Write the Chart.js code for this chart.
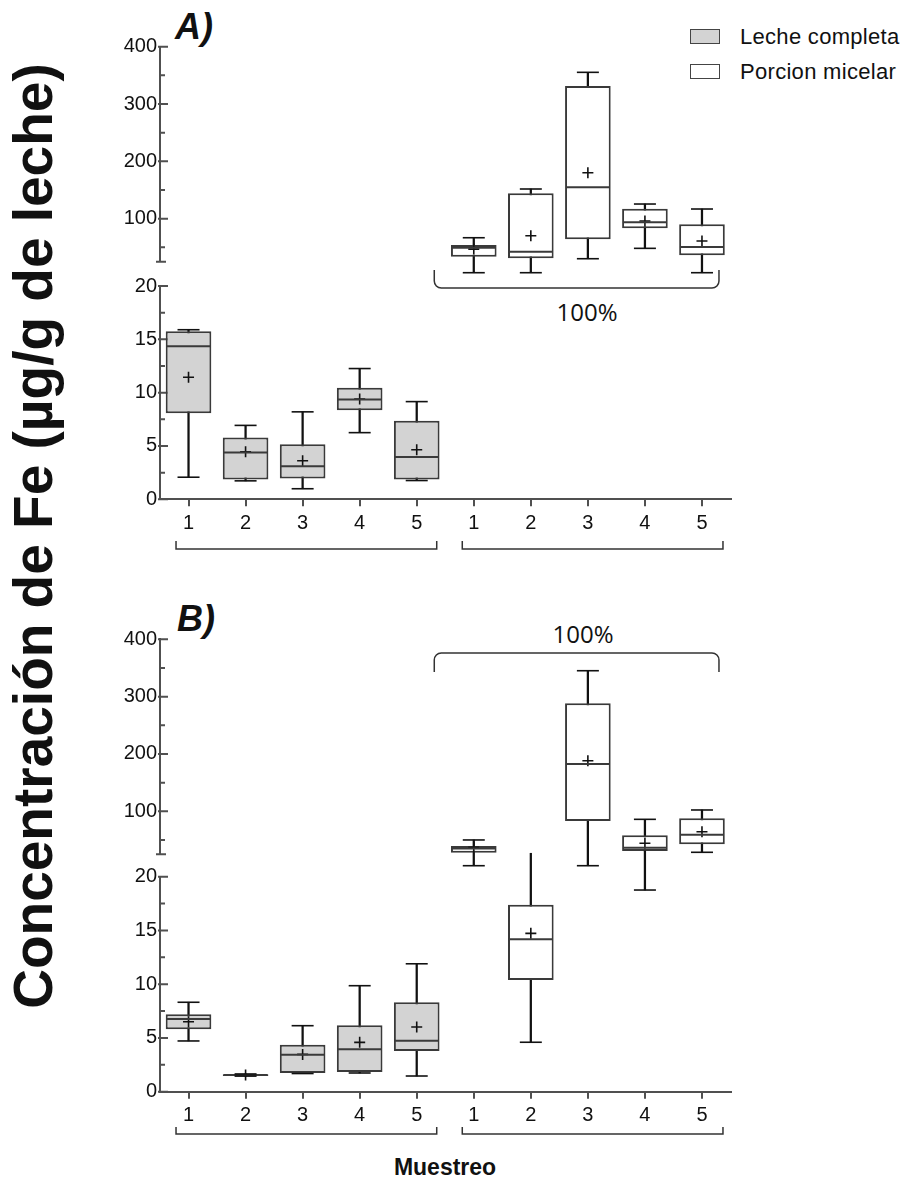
<!DOCTYPE html>
<html>
<head>
<meta charset="utf-8">
<script src="https://cdn.jsdelivr.net/npm/chart.js"></script>
<style>
  html, body { margin: 0; padding: 0; background: #fff; }
  #fig { position: relative; width: 911px; height: 1182px; overflow: hidden; font-family: "Liberation Sans", Arial, sans-serif; color: #111; }
  #fig canvas { position: absolute; left: 0; }
  .ytitle { position: absolute; left: -467px; top: 506px; width: 1000px; height: 60px; line-height: 60px; text-align: center;
            font-size: 55px; font-weight: bold; white-space: nowrap; transform: rotate(-90deg); }
  .panel { position: absolute; font-size: 36px; line-height: 36px; font-weight: bold; font-style: italic; }
  .key { position: absolute; left: 690px; width: 28px; height: 13px; border: 1.5px solid #444; }
  .keytxt { position: absolute; left: 740px; font-size: 22px; line-height: 22px; letter-spacing: 0.3px; white-space: nowrap; }
  .pct { position: absolute; width: 200px; text-align: center; font-family: "Open Sans", sans-serif; font-size: 24px; line-height: 24px; }
  .xtitle { position: absolute; left: 345px; width: 200px; top: 1156px; text-align: center; font-size: 23px; line-height: 23px; font-weight: bold; }
</style>
</head>
<body>
<div id="fig">
  <div class="ytitle">Concentración de Fe (µg/g de leche)</div>
  <div class="panel" style="left:175px;top:9px">A)</div>
  <div class="panel" style="left:177px;top:601px">B)</div>
  <div class="key" style="top:29px;background:#d3d3d3"></div>
  <div class="keytxt" style="top:26px">Leche completa</div>
  <div class="key" style="top:63.5px;background:#fff"></div>
  <div class="keytxt" style="top:61px">Porcion micelar</div>
  <div class="pct" style="left:487px;top:300px">100%</div>
  <div class="pct" style="left:483px;top:622px">100%</div>
  <div class="xtitle">Muestreo</div>

  <canvas id="aTop" width="911" height="335" style="top:0px"></canvas>
  <canvas id="aLow" width="911" height="318" style="top:262px"></canvas>
  <canvas id="bTop" width="911" height="310" style="top:590px"></canvas>
  <canvas id="bLow" width="911" height="336" style="top:846px"></canvas>
</div>

<script>
// ---------------------------------------------------------------------------
// datos
// ---------------------------------------------------------------------------
const categories = ['1', '2', '3', '4', '5', '1', '2', '3', '4', '5'];
const sampleGroup = [0, 0, 0, 0, 0, 1, 1, 1, 1, 1];   // 0 = leche completa, 1 = porcion micelar
const groupNames = ['Leche completa', 'Porcion micelar'];
const groupFill = ['#d3d3d3', '#ffffff'];

const upperTicks = [100, 200, 300, 400];
const upperMinorTicks = [50, 150, 250, 350];
const upperBreak = 25;
const lowerTicks = [0, 5, 10, 15, 20];
const lowerMinorTicks = [2.5, 7.5, 12.5, 17.5];

const _ = null;

// A) tramo superior (25-400)
const aUpMin  = [_, _, _, _, _, 5.8, 5.8, 30.2, 48.3, 5.8];
const aUpQ1   = [_, _, _, _, _, 33.7, 30.9, 64.0, 83.2, 36.1];
const aUpMed  = [_, _, _, _, _, 49.4, 42.4, 154.7, 93.7, 50.6];
const aUpQ3   = [_, _, _, _, _, 54.1, 144.3, 331.4, 117.4, 90.2];
const aUpMax  = [_, _, _, _, _, 66.8, 151.8, 355.3, 125.6, 116.9];
const aUpMean = [_, _, _, _, _, 47.0, 70.3, 180.2, 96.0, 61.1];

// A) tramo inferior (0-20)
const aLowMin  = [2.07, 1.73, 0.99, 6.25, 1.76, _, _, _, _, _];
const aLowQ1   = [8.08, 1.86, 1.95, 8.36, 1.86, _, _, _, _, _];
const aLowMed  = [14.36, 4.39, 3.09, 9.35, 3.96, _, _, _, _, _];
const aLowQ3   = [15.75, 5.79, 5.17, 10.46, 7.37, _, _, _, _, _];
const aLowMax  = [15.9, 6.93, 8.2, 12.26, 9.16, _, _, _, _, _];
const aLowMean = [11.45, 4.45, 3.62, 9.4, 4.64, _, _, _, _, _];

// B) tramo superior (25-400)
const bUpMin    = [_, _, _, _, _, 5.1, _, 5.1, 30.7, 28.5];
const bUpCapMin = [_, _, _, _, _, 5.1, _, 5.1, _, 28.5];
const bUpQ1     = [_, _, _, _, _, 27.8, _, 83.1, 30.7, 42.4];
const bUpMed    = [_, _, _, _, _, 35.3, _, 182.5, 36.5, 59.2];
const bUpQ3     = [_, _, _, _, _, 39.5, _, 288.4, 58.1, 87.8];
const bUpMax    = [_, _, _, _, _, 50.0, _, 345.2, 86.0, 102.3];
const bUpMean   = [_, _, _, _, _, 37.2, _, 188.2, 44.2, 64.4];

// B) tramo inferior (0-20)
const bLowMin    = [4.72, 1.45, 1.69, 1.74, 1.46, _, 4.6, _, 18.76, _];
const bLowQ1     = [5.8, 1.47, 1.74, 1.83, 3.79, _, 10.39, _, _, _];
const bLowMed    = [6.76, 1.55, 3.44, 3.94, 4.74, _, 14.18, _, _, _];
const bLowQ3     = [7.2, 1.62, 4.37, 6.18, 8.32, _, 17.4, _, _, _];
const bLowMax    = [8.32, 1.65, 6.14, 9.86, 11.9, _, 22.18, _, 22.4, _];
const bLowCapMax = [8.32, 1.65, 6.14, 9.86, 11.9, _, 22.18, _, _, _];
const bLowMean   = [6.51, 1.55, 3.47, 4.59, 6.02, _, 14.73, _, _, _];

// ---------------------------------------------------------------------------
// estilo
// ---------------------------------------------------------------------------
const fontFam = '"Liberation Sans", Arial, sans-serif';
const axisColor = '#505050';
const boxLine = '#3a3a3a';
const inkColor = '#111111';

// ---------------------------------------------------------------------------
// plugins
// ---------------------------------------------------------------------------
const axisTicks = {
    id: 'axisTicks',
    beforeDatasetsDraw(chart, args, opts) {
        const y = chart.scales.y;
        const x0 = y.right;
        const ctx = chart.ctx;
        ctx.save();
        ctx.strokeStyle = axisColor;
        ctx.lineWidth = 2;
        ctx.beginPath();
        opts.major.forEach(v => {
            const py = y.getPixelForValue(v);
            ctx.moveTo(x0 - 2, py); ctx.lineTo(x0 + 8, py);
        });
        opts.minor.forEach(v => {
            const py = y.getPixelForValue(v);
            ctx.moveTo(x0, py); ctx.lineTo(x0 + 5, py);
        });
        if (opts.breakAt != null) {
            const py = y.getPixelForValue(opts.breakAt);
            ctx.moveTo(x0 - 4, py); ctx.lineTo(x0 + 6, py);
        }
        ctx.stroke();
        ctx.restore();
    }
};

// llaves bajo / sobre los grupos (y en coordenadas de la figura)
const brackets = {
    id: 'brackets',
    afterDraw(chart, args, opts) {
        const x = chart.scales.x;
        const ctx = chart.ctx;
        const oy = chart.canvas.offsetTop;
        ctx.save();
        ctx.strokeStyle = '#333';
        ctx.lineWidth = 1.5;
        (opts.items || []).forEach(b => {
            const x1 = x.getPixelForValue(b.from) + b.dx1;
            const x2 = x.getPixelForValue(b.to) + b.dx2;
            const yEnd = b.yEnd - oy, yBar = b.yBar - oy;
            ctx.beginPath();
            ctx.moveTo(x1, yEnd);
            if (b.r) {
                ctx.arcTo(x1, yBar, x2, yBar, b.r);
                ctx.arcTo(x2, yBar, x2, yEnd, b.r);
            } else {
                ctx.lineTo(x1, yBar);
                ctx.lineTo(x2, yBar);
            }
            ctx.lineTo(x2, yEnd);
            ctx.stroke();
        });
        ctx.restore();
    }
};

// ---------------------------------------------------------------------------
// cajas
// ---------------------------------------------------------------------------
function pointSet(data, style, r, w, color) {
    return {
        type: 'line', data: data, showLine: false, clip: false, order: 0,
        pointStyle: style, pointRadius: r, pointBorderWidth: w,
        pointBorderColor: color, pointBackgroundColor: color
    };
}

function boxDatasets(s) {
    return [
        {
            type: 'bar', label: 'bigotes', clip: false, order: 2, grouped: false,
            data: s.min.map((v, i) => v === null ? null : [v, s.max[i]]),
            backgroundColor: inkColor, barThickness: 1.6
        },
        {
            type: 'bar', label: 'cajas', clip: false, order: 1, grouped: false,
            data: s.q1.map((v, i) => v === null ? null : [v, s.q3[i]]),
            backgroundColor: sampleGroup.map(g => groupFill[g]),
            borderColor: boxLine, borderWidth: 2, borderSkipped: false,
            barPercentage: 0.8, categoryPercentage: 1
        },
        pointSet(s.capMin || s.min, 'line', 11, 1.6, inkColor),
        pointSet(s.capMax || s.max, 'line', 11, 1.6, inkColor),
        pointSet(s.med, 'line', 22, 2, boxLine),
        pointSet(s.mean, 'cross', 5.5, 1.6, inkColor)
    ];
}

function crearGrafico(id, cfg) {
    const canvas = document.getElementById(id);
    const xScale = {
        type: 'category', offset: true, display: cfg.showX,
        grid: { display: true, drawOnChartArea: false, drawTicks: true, tickLength: 7, offset: false, color: axisColor, lineWidth: 2 },
        border: { display: true, color: axisColor, width: 2 },
        ticks: { color: inkColor, font: { family: fontFam, size: 20 }, padding: 5, autoSkip: false, maxRotation: 0 }
    };
    if (cfg.showX) xScale.afterFit = sc => { sc.height = 30; };

    return new Chart(canvas, {
        type: 'bar',
        data: { labels: categories, datasets: boxDatasets(cfg.series) },
        options: {
            responsive: false,
            animation: false,
            devicePixelRatio: 1,
            events: [],
            layout: { padding: { left: 100, right: 180.5, top: cfg.padTop, bottom: cfg.padBottom } },
            plugins: {
                legend: { display: false },
                tooltip: { enabled: false },
                axisTicks: { major: cfg.ticks, minor: cfg.minor, breakAt: cfg.breakAt },
                brackets: { items: cfg.brackets || [] }
            },
            scales: {
                x: xScale,
                y: {
                    min: cfg.min, max: cfg.max,
                    afterBuildTicks: sc => { sc.ticks = cfg.ticks.map(v => ({ value: v })); },
                    afterFit: sc => { sc.width = 60; },
                    grid: { display: false, drawTicks: false },
                    border: { display: true, color: axisColor, width: 2 },
                    ticks: { color: inkColor, font: { family: fontFam, size: 20 }, padding: 3 }
                }
            }
        },
        plugins: [axisTicks, brackets]
    });
}

// ---------------------------------------------------------------------------
// inicializacion
// ---------------------------------------------------------------------------
const groupBrackets = (yEnd, yBar) => [
    { from: 0, to: 4, dx1: -12.5, dx2: 20, yEnd: yEnd, yBar: yBar, r: 0 },
    { from: 5, to: 9, dx1: -11.5, dx2: 21, yEnd: yEnd, yBar: yBar, r: 0 }
];

crearGrafico('aTop', {
    series: { min: aUpMin, q1: aUpQ1, med: aUpMed, q3: aUpQ3, max: aUpMax, mean: aUpMean },
    min: upperBreak, max: 400, ticks: upperTicks, minor: upperMinorTicks, breakAt: upperBreak,
    showX: false, padTop: 46.7, padBottom: 73.3,
    brackets: [{ from: 5, to: 9, dx1: -39.5, dx2: 17, yEnd: 270, yBar: 288, r: 7 }]
});

crearGrafico('aLow', {
    series: { min: aLowMin, q1: aLowQ1, med: aLowMed, q3: aLowQ3, max: aLowMax, mean: aLowMean },
    min: 0, max: 20, ticks: lowerTicks, minor: lowerMinorTicks, breakAt: null,
    showX: true, padTop: 22, padBottom: 50.7,
    brackets: groupBrackets(541, 549)
});

crearGrafico('bTop', {
    series: { min: bUpMin, capMin: bUpCapMin, q1: bUpQ1, med: bUpMed, q3: bUpQ3, max: bUpMax, mean: bUpMean },
    min: upperBreak, max: 400, ticks: upperTicks, minor: upperMinorTicks, breakAt: upperBreak,
    showX: false, padTop: 49.3, padBottom: 45.7,
    brackets: [{ from: 5, to: 9, dx1: -39.5, dx2: 17, yEnd: 672, yBar: 653, r: 7 }]
});

crearGrafico('bLow', {
    series: { min: bLowMin, q1: bLowQ1, med: bLowMed, q3: bLowQ3, max: bLowMax, capMax: bLowCapMax, mean: bLowMean },
    min: 0, max: 20, ticks: lowerTicks, minor: lowerMinorTicks, breakAt: null,
    showX: true, padTop: 30.7, padBottom: 60.3,
    brackets: groupBrackets(1127, 1134)
});
</script>
</body>
</html>
